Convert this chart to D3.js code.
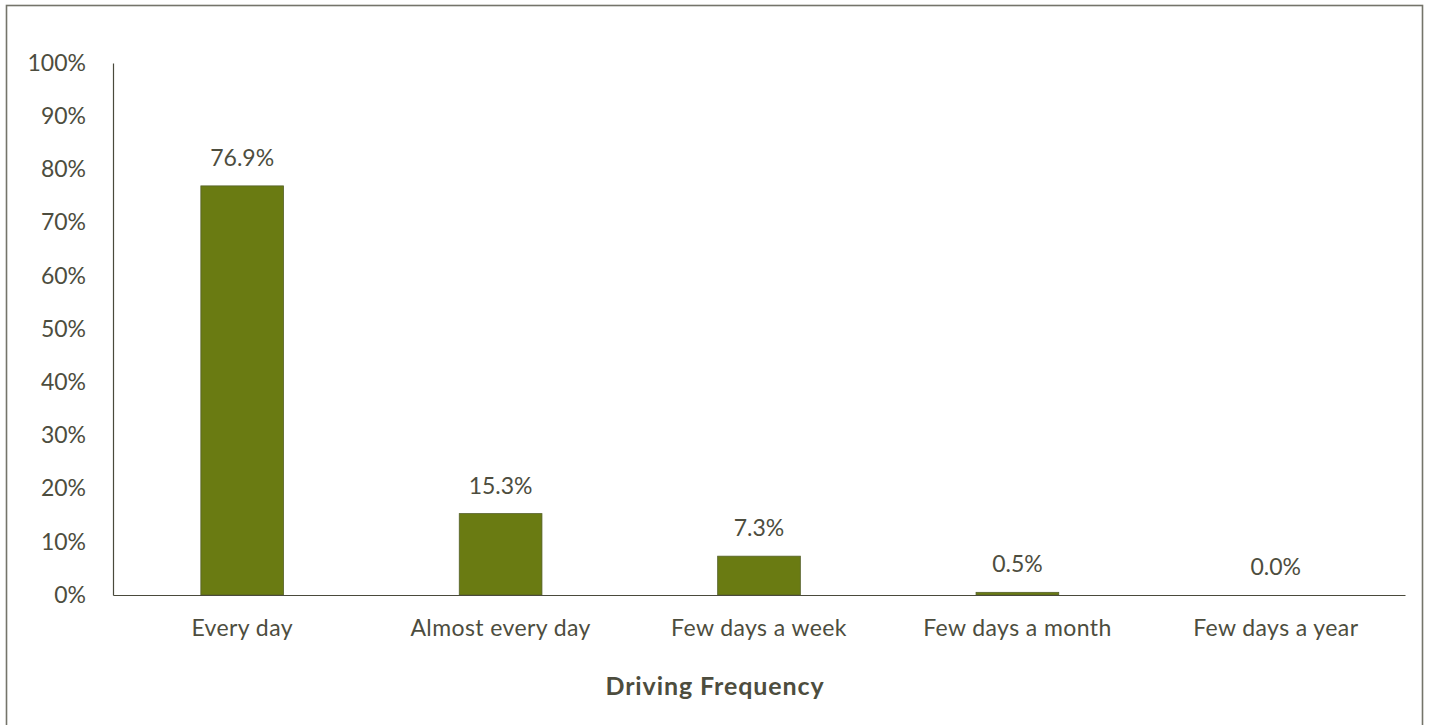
<!DOCTYPE html>
<html>
<head>
<meta charset="utf-8">
<script src="https://cdn.jsdelivr.net/npm/d3@7"></script>
<style>
  html, body { margin: 0; padding: 0; background: #fff; }
  svg { display: block; }
  text { font-family: Lato, "Open Sans", sans-serif; fill: #4d4d3e; }
</style>
</head>
<body>
<svg id="chart" width="1430" height="725"></svg>
<script>
const categories = ["Every day", "Almost every day", "Few days a week", "Few days a month", "Few days a year"];
const shares = [76.9, 15.3, 7.3, 0.5, 0.0];
const yTicks = [0, 10, 20, 30, 40, 50, 60, 70, 80, 90, 100];
const axisTitle = "Driving Frequency";

const svg = d3.select("#chart");
const W = 1430, H = 725;
const m = { left: 113, right: 25, top: 63, bottom: 130 };

// outer frame
svg.append("rect")
  .attr("x", 6.5).attr("y", 5.5)
  .attr("width", 1416).attr("height", 730)
  .attr("fill", "none").attr("stroke", "#74746a").attr("stroke-width", 1.6);

const x = d3.scaleBand().domain(categories)
  .range([m.left, W - m.right]).paddingInner(0.68).paddingOuter(0.34);
const y = d3.scaleLinear().domain([0, 100]).range([H - m.bottom, m.top]);

// y axis
const yAxis = svg.append("g").attr("transform", `translate(${m.left},0)`)
  .call(d3.axisLeft(y).tickValues(yTicks).tickSize(0).tickPadding(27).tickFormat(d => d + "%"));
yAxis.select(".domain").attr("stroke", "#4a4a3c").attr("stroke-width", 1.2);
yAxis.selectAll("text").attr("font-size", 23).style("fill", "#4d4d3e");

// bars
svg.append("g").selectAll("rect").data(categories).join("rect")
  .attr("x", d => x(d))
  .attr("y", (d, i) => y(shares[i]))
  .attr("width", x.bandwidth())
  .attr("height", (d, i) => y(0) - y(shares[i]))
  .attr("fill", "#6a7b12")
  .attr("stroke", "#55602a").attr("stroke-width", 0.8);

// value labels
svg.append("g").selectAll("text").data(categories).join("text")
  .attr("x", d => x(d) + x.bandwidth() / 2)
  .attr("y", (d, i) => y(shares[i]) - 20)
  .attr("text-anchor", "middle")
  .attr("font-size", 23)
  .text((d, i) => shares[i].toFixed(1) + "%");

// x axis
const xAxis = svg.append("g").attr("transform", `translate(0,${y(0)})`)
  .call(d3.axisBottom(x).tickSize(0).tickPadding(25));
xAxis.select(".domain").attr("stroke", "#4a4a3c").attr("stroke-width", 1.2);
xAxis.selectAll("text").attr("font-size", 23).attr("letter-spacing", 0.4).style("fill", "#4d4d3e");

// axis title
svg.append("text")
  .attr("x", 715).attr("y", 695)
  .attr("text-anchor", "middle")
  .attr("font-size", 25).attr("font-weight", "bold").attr("letter-spacing", 0.9)
  .text(axisTitle);
</script>
</body>
</html>
